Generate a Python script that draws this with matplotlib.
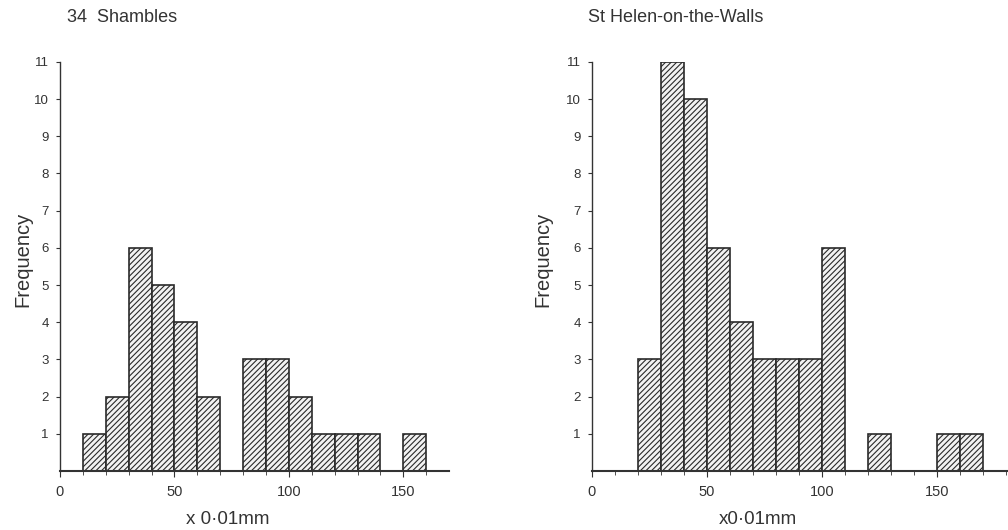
import matplotlib.pyplot as plt
import numpy as np

plt.rcParams['font.family'] = ['Liberation Sans', 'DejaVu Sans']
plt.rcParams['hatch.linewidth'] = 0.8
plt.rcParams['hatch.color'] = '#858585'

# bin left edges (x 0.01 mm) and counts
bins_shambles = [10, 20, 30, 40, 50, 60, 80, 90, 100, 110, 120, 130, 150]
freq_shambles = [1, 2, 6, 5, 4, 2, 3, 3, 2, 1, 1, 1, 1]

bins_helen = [20, 30, 40, 50, 60, 70, 80, 90, 100, 120, 150, 160]
freq_helen = [3, 11, 10, 6, 4, 3, 3, 3, 6, 1, 1, 1]

titles = ["34  Shambles", "St Helen-on-the-Walls"]
xlabels = ["x 0·01mm", "x0·01mm"]
ytick_vals = list(range(1, 12))
xtick_vals = [0, 50, 100, 150]

ink = '#333333'

fig = plt.figure(figsize=(10.08, 5.30), dpi=100)

pos = [[0.0595, 0.1113, 0.386, 0.772], [0.587, 0.1113, 0.413, 0.772]]
xmax = [170, 181]
title_x = [0.066, 0.583]
ylab_x = [-0.072, -0.094]
xlab_x = [0.43, 0.40]
data = [(bins_shambles, freq_shambles), (bins_helen, freq_helen)]

for i in range(2):
    ax = fig.add_axes(pos[i])
    b, f = data[i]
    ax.bar(b, f, width=10, align='edge', color='#f2f2f2', edgecolor='#2a2a2a',
           linewidth=1.2, hatch='//////')
    ax.set_xlim(0, xmax[i])
    ax.set_ylim(0, 11)
    ax.spines['top'].set_visible(False)
    ax.spines['right'].set_visible(False)
    ax.spines['left'].set_color(ink)
    ax.spines['bottom'].set_color(ink)
    ax.spines['left'].set_linewidth(1.0)
    ax.spines['bottom'].set_linewidth(1.5)
    ax.set_yticks(ytick_vals)
    ax.set_yticklabels([str(v) for v in ytick_vals], fontsize=9.5, color=ink)
    ax.set_xticks(xtick_vals)
    ax.set_xticklabels([str(v) for v in xtick_vals], fontsize=10.5, color=ink)
    ax.set_xticks(np.arange(0, xmax[i], 10), minor=True)
    ax.tick_params(axis='y', length=3, width=0.8, color=ink, pad=5)
    ax.tick_params(axis='x', which='major', length=4, width=0.8, color=ink, pad=6)
    ax.tick_params(axis='x', which='minor', length=3, width=0.6, color=ink)
    ax.set_ylabel("Frequency", fontsize=14.5, color=ink)
    ax.yaxis.set_label_coords(ylab_x[i], 0.518)
    ax.set_xlabel(xlabels[i], fontsize=13.5, color=ink)
    ax.xaxis.set_label_coords(xlab_x[i], -0.098)
    fig.text(title_x[i], 0.967, titles[i], fontsize=13, color=ink,
             ha='left', va='center')

plt.savefig("out.png", dpi=100)
